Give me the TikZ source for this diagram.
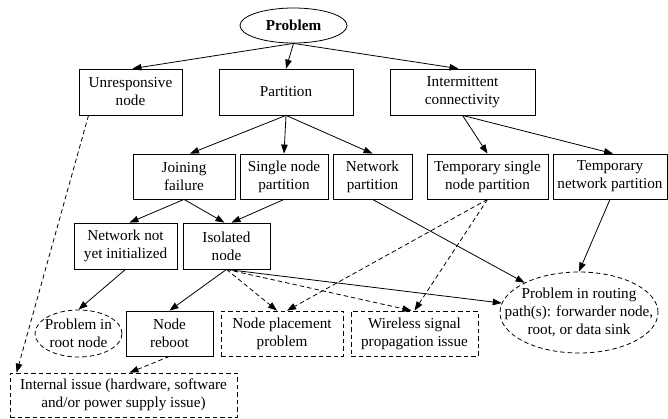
\documentclass[tikz,border=0pt]{standalone}
\usepackage{fontspec}
\setmainfont{Liberation Serif}
\usetikzlibrary{arrows.meta,shapes.geometric}
\begin{document}
\begin{tikzpicture}[x=1pt,y=-1pt,
  every node/.style={font=\fontsize{15.2}{18}\selectfont, align=center, inner sep=0pt},
  box/.style={draw, rectangle, line width=0.8pt},
  dsh/.style={dash pattern=on 4.5pt off 3pt},
  dbox/.style={box, dsh},
  ell/.style={draw, ellipse, line width=0.8pt},
  txt/.style={},
  edge/.style={line width=0.8pt, -{Triangle[length=9pt,width=6.5pt]}},
  dedge/.style={edge, dsh}
]
\useasboundingbox (0,0) rectangle (668,418);

% row 0
\node[ell, minimum width=107pt, minimum height=35pt] (problem) at (293.5,25.5) {};
\node[txt, font=\fontsize{15.2}{18}\selectfont\bfseries] (problemtxt) at (problem.center) {Problem};

% row 1
\node[box, minimum width=103pt, minimum height=46pt] (unresp) at (130.5,92) {Unresponsive\\node};
\node[box, minimum width=134pt, minimum height=46pt] (partition) at (286,92) {Partition};
\node[box, minimum width=145pt, minimum height=46pt] (intermit) at (462.5,92) {Intermittent\\connectivity};

% row 2
\node[box, minimum width=102pt, minimum height=45pt] (joining) at (184,176.5) {Joining\\failure};
\node[box, minimum width=88pt, minimum height=45pt] (single) at (284,176.5) {Single node\\partition};
\node[box, minimum width=79pt, minimum height=45pt] (netpart) at (372.5,176.5) {Network\\partition};
\node[box, minimum width=121pt, minimum height=45pt] (tsingle) at (487.5,176.5) {Temporary single\\node partition};
\node[box, minimum width=114pt, minimum height=45pt] (tnet) at (610,176.5) {Temporary\\network partition};

% row 3
\node[box, minimum width=103pt, minimum height=46pt] (notinit) at (125.5,246) {Network not\\yet initialized};
\node[box, minimum width=87pt, minimum height=46pt] (isolated) at (226.5,246) {Isolated\\node};

% row 4
\node[ell, dsh, minimum width=87pt, minimum height=47pt] (root) at (78.5,333.5) {};
\node[txt] (roottxt) at (root.center) {Problem in\\root node};
\node[box, minimum width=87pt, minimum height=45pt] (reboot) at (169.5,333.5) {Node\\reboot};
\node[dbox, minimum width=122pt, minimum height=45pt] (placement) at (282,333.5) {Node placement\\problem};
\node[dbox, minimum width=127pt, minimum height=45pt] (wireless) at (414.5,333.5) {Wireless signal\\propagation issue};
\node[ell, dsh, minimum width=158pt, minimum height=81pt] (route) at (579,312.5) {};
\node[txt] (routetxt) at (route.center) {Problem in routing\\path(s): forwarder node,\\root, or data sink};

% row 5
\node[dbox, minimum width=227pt, minimum height=44pt] (internal) at (123.5,395) {Internal issue (hardware, software\\and/or power supply issue)};

% edges
\draw[edge] (problem.south) -- ([xshift=2pt]unresp.north);
\draw[edge] (problem.south) -- (partition.north);
\draw[edge] (problem.south) -- ([xshift=-4pt]intermit.north);

\draw[dedge] ([xshift=-42pt]unresp.south) -- ([xshift=7pt]internal.north west);

\draw[edge] (partition.south) -- ([xshift=6pt]joining.north);
\draw[edge] (partition.south) -- (single.north);
\draw[edge] (partition.south) -- (netpart.north);

\draw[edge] (intermit.south) -- (tsingle.north);
\draw[edge] (intermit.south) -- ([xshift=3pt]tnet.north);

\draw[edge] (joining.south) -- ([xshift=4pt]notinit.north);
\draw[edge] (joining.south) -- ([xshift=-2pt]isolated.north);
\draw[edge] (single.south) -- ([xshift=5pt]isolated.north);

\draw[edge] (notinit.south) -- (root.north);
\draw[edge] (isolated.south) -- (reboot.north);
\draw[dedge] (isolated.south) -- ([xshift=-5pt]placement.north);
\draw[dedge] (isolated.south) -- ([xshift=-3pt]wireless.north);
\draw[edge] (isolated.south) -- (route);

\draw[edge] (netpart.south) -- (route);
\draw[dedge] (tsingle.south) -- ([xshift=5pt]placement.north);
\draw[dedge] (tsingle.south) -- (wireless.north);
\draw[edge] (tnet.south) -- (route.north);

\draw[dedge] (reboot.south) -- ([xshift=6pt]internal.north);
\end{tikzpicture}
\end{document}
